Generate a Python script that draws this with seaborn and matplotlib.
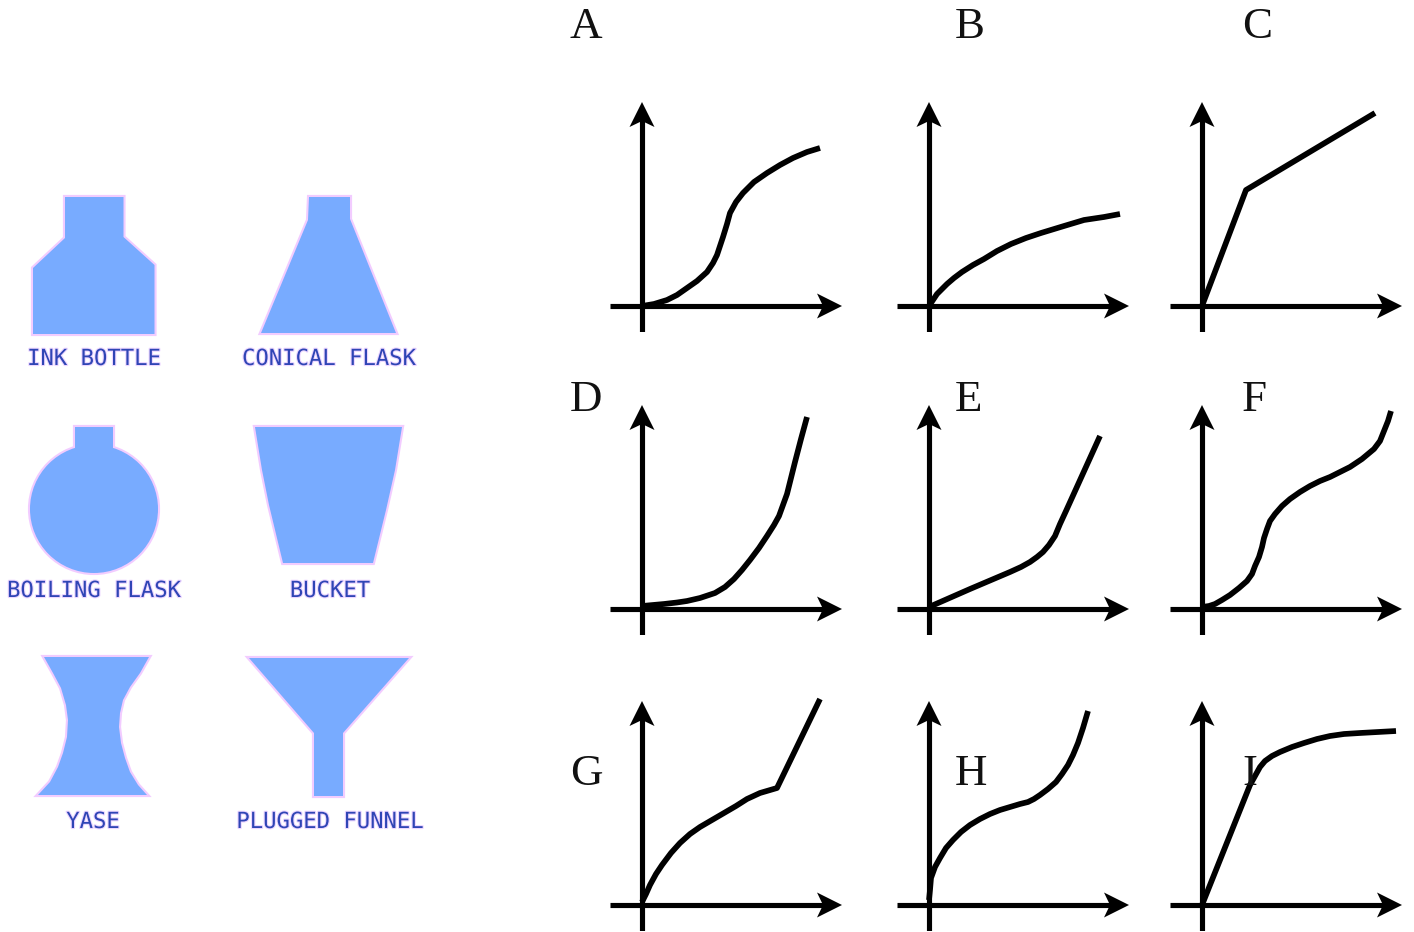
# Container shapes on the left, sketch graphs A-I on the right

import matplotlib
matplotlib.use('Agg')
import matplotlib.pyplot as plt
import matplotlib.patheffects as pe
from matplotlib.patches import Circle, Polygon
import seaborn as sns

W, H = 1414, 932

# Container outlines (reference pixels)
ink_bottle = [(65, 197), (123.5, 197), (123.5, 237), (154.5, 265), (154.5, 334), (33, 334), (33, 268), (65, 238)]
conical_flask = [(309, 197), (350, 197), (350, 219), (396, 333), (261, 333), (308, 220)]
flask_neck = [(75, 427), (113, 427), (113, 455), (75, 455)]
flask_bulb_centre = (94, 509)
flask_bulb_radius = 64
bucket = [(255, 427), (402, 427), (395, 470), (386, 510), (373, 563), (283, 563), (269, 505), (262, 470)]
vase = [(44, 657), (149, 657), (140, 673), (130, 687), (123, 700), (120, 713), (119, 727), (121, 743), (125, 758),
        (130, 772), (138, 785), (147, 795), (38, 795), (50, 782), (58, 767), (63, 753), (67, 737), (68, 720),
        (66, 705), (61, 688), (53, 673)]
funnel = [(249, 658), (409, 658), (343, 733), (343, 796), (314, 796), (314, 733)]

shape_labels = ["INK BOTTLE", "CONICAL FLASK", "BOILING FLASK", "BUCKET", "YASE", "PLUGGED FUNNEL"]
label_x = [94, 329, 94, 330, 93, 330]
label_y = [359, 359, 591, 591, 822, 822]

# Sketch curves, measured from each graph's origin
panels = ["A", "B", "C", "D", "E", "F", "G", "H", "I"]
curve_x = {
    "A": [0, 12, 25, 35, 45, 55, 65, 71, 75, 78, 81, 85, 88, 94, 101, 112, 125, 138, 151, 165, 178],
    "B": [0, 8, 18, 25, 33, 44, 55, 68, 82, 97, 112, 135, 155, 175, 191],
    "C": [0, 44, 173],
    "D": [0, 22, 35, 45, 58, 73, 83, 92, 100, 108, 117, 125, 132, 137, 141, 145, 149, 153, 159, 165],
    "E": [0, 41, 81, 92, 101, 108, 114, 120, 126, 131, 137, 171],
    "F": [0, 7, 13, 20, 28, 37, 45, 50, 53, 57, 60, 62, 65, 68, 73, 80, 88, 98, 108, 118, 128, 138, 148, 160, 172,
          178, 182, 186, 189],
    "G": [0, 4, 8, 14, 20, 29, 38, 48, 58, 70, 82, 94, 105, 118, 135, 178],
    "H": [0, 1, 2, 6, 11, 17, 24, 32, 41, 51, 61, 71, 81, 91, 99, 105, 111, 119, 127, 133, 139, 144, 149, 154, 159],
    "I": [0, 48, 53, 58, 63, 70, 78, 90, 102, 115, 128, 142, 158, 176, 194],
}
curve_y = {
    "A": [0, 2, 6, 11, 18, 25, 34, 43, 51, 60, 69, 82, 93, 104, 113, 124, 133, 141, 148, 154, 158],
    "B": [0, 12, 22, 28, 34, 41, 47, 55, 62, 68, 73, 80, 86, 89, 92],
    "C": [0, 116, 193],
    "D": [3, 5, 6.5, 8, 11, 16, 22, 30, 39, 49, 61, 73, 84, 93, 104, 115, 131, 147, 170, 192],
    "E": [2, 20, 37, 42, 47, 52, 57, 64, 73, 85, 98, 173],
    "F": [2, 3, 5, 9, 14, 21, 28, 35, 43, 52, 62, 71, 80, 88, 95, 103, 110, 117, 123, 128, 132, 137, 142, 150, 160,
          168, 178, 188, 198],
    "G": [3, 11, 20, 31, 40, 52, 62, 71, 78, 85, 92, 99, 106, 112, 117, 206],
    "H": [5, 15, 27, 38, 47, 57, 65, 73, 80, 86, 91, 95, 98, 101, 103, 106, 110, 116, 123, 131, 140, 150, 162, 177, 194],
    "I": [0, 120, 129, 138, 144, 149, 153, 158, 162, 166, 169, 171, 172, 173, 174],
}

# Layout
origin_x = [642, 929, 1202]
origin_y = [306, 609, 905]
letter_x = [570, 955, 1242]
letter_y = [38, 411, 785]
x_lim = (-32, 200)
y_lim = (-26, 204)
head = [(0, 0), (-25, 12.5), (-19, 0), (-25, -12.5)]

sns.set_style("white")
fig = plt.figure(figsize=(W / 100, H / 100), dpi=100)

# Left part: axes in picture pixels
ax = fig.add_axes([0, 0, 500 / W, 1])
ax.set_xlim(0, 500)
ax.set_ylim(H, 0)
ax.axis("off")

fill, edge = "#78abff", "#f2ccff"
polys = [ink_bottle, conical_flask, flask_neck, bucket, vase, funnel]
for lw, ec in [(3, edge), (0, fill)]:
    ax.add_patch(Circle(flask_bulb_centre, flask_bulb_radius, fc=fill, ec=ec, lw=lw))
    for p in polys:
        ax.add_patch(Polygon(p, closed=True, fc=fill, ec=ec, lw=lw))

for txt, x, y in zip(shape_labels, label_x, label_y):
    ax.text(x, y, txt, family="DejaVu Sans Mono", fontsize=16, color="#2f45b5", ha="center", va="center",
            path_effects=[pe.withStroke(linewidth=1.6, foreground="#ecd6ff")])

# Right part: one axes per graph, one data unit = one pixel
for i, name in enumerate(panels):
    row, col = divmod(i, 3)
    ox, oy = origin_x[col], origin_y[row]
    left = ox + x_lim[0]
    bottom = oy - y_lim[0]
    a = fig.add_axes([left / W, 1 - bottom / H, (x_lim[1] - x_lim[0]) / W, (y_lim[1] - y_lim[0]) / H])
    a.set_xlim(x_lim)
    a.set_ylim(y_lim)
    a.axis("off")
    a.patch.set_alpha(0)

    a.plot([x_lim[0], x_lim[1] - 15], [0, 0], color="k", lw=3.7, solid_capstyle="butt")
    a.plot([0, 0], [y_lim[0], y_lim[1] - 15], color="k", lw=3.7, solid_capstyle="butt")
    a.add_patch(Polygon([(x_lim[1] + hx, hy) for hx, hy in head], fc="k", ec="none"))
    a.add_patch(Polygon([(hy, y_lim[1] + hx) for hx, hy in head], fc="k", ec="none"))

    sns.lineplot(x=curve_x[name], y=curve_y[name], ax=a, color="k", linewidth=4.1, sort=False,
                 estimator=None, legend=False, solid_capstyle="butt", solid_joinstyle="round", clip_on=False)
    a.set_xlim(x_lim)
    a.set_ylim(y_lim)

    fig.text(letter_x[col] / W, 1 - letter_y[row] / H, name, family="Liberation Serif", fontsize=32.4,
             color="#111111", ha="left", va="baseline")

plt.savefig("out.png", dpi=100)
